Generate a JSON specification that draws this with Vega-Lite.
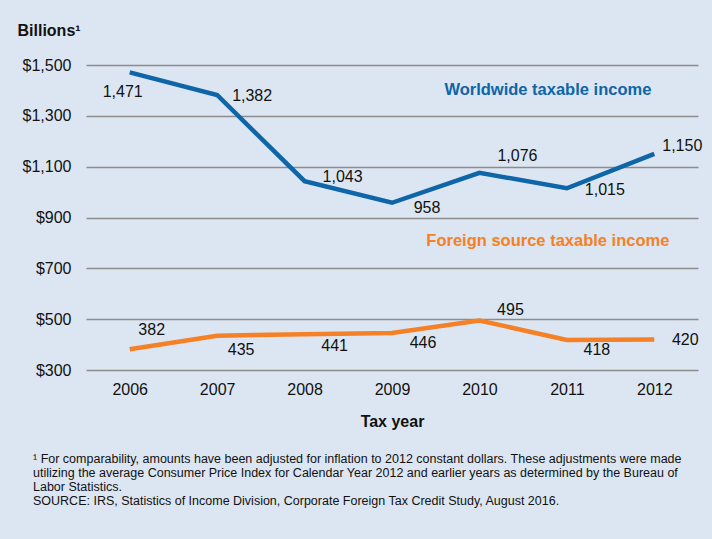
{
  "$schema": "https://vega.github.io/schema/vega-lite/v6.json",
  "width": 612,
  "height": 305,
  "autosize": {"type": "none"},
  "padding": {"left": 86, "top": 65, "right": 14, "bottom": 169},
  "background": "#dce6f2",
  "config": {"view": {"stroke": null}, "font": "Liberation Sans", "text": {"font": "Liberation Sans"}},
  "title": {
    "text": [
      "¹ For comparability, amounts have been adjusted for inflation to 2012 constant dollars. These adjustments were made",
      "utilizing the average Consumer Price Index for Calendar Year 2012 and earlier years as determined by the Bureau of",
      "Labor Statistics.",
      "SOURCE: IRS, Statistics of Income Division, Corporate Foreign Tax Credit Study, August 2016."
    ],
    "orient": "bottom",
    "anchor": "start",
    "frame": "group",
    "dx": -53,
    "offset": 24,
    "fontSize": 12.5,
    "fontWeight": "normal",
    "lineHeight": 14,
    "color": "#111111",
    "font": "Liberation Sans"
  },
  "datasets": {
    "main": [
      {"year": "2006", "series": "Worldwide", "value": 1471},
      {"year": "2007", "series": "Worldwide", "value": 1382},
      {"year": "2008", "series": "Worldwide", "value": 1043},
      {"year": "2009", "series": "Worldwide", "value": 958},
      {"year": "2010", "series": "Worldwide", "value": 1076},
      {"year": "2011", "series": "Worldwide", "value": 1015},
      {"year": "2012", "series": "Worldwide", "value": 1150},
      {"year": "2006", "series": "Foreign", "value": 382},
      {"year": "2007", "series": "Foreign", "value": 435},
      {"year": "2008", "series": "Foreign", "value": 441},
      {"year": "2009", "series": "Foreign", "value": 446},
      {"year": "2010", "series": "Foreign", "value": 495},
      {"year": "2011", "series": "Foreign", "value": 418},
      {"year": "2012", "series": "Foreign", "value": 420}
    ],
    "names": [
      {"year": "2011", "series": "Worldwide", "value": 1402, "label": "Worldwide taxable income"},
      {"year": "2011", "series": "Foreign", "value": 808, "label": "Foreign source taxable income"}
    ]
  },
  "data": {"name": "main"},
  "encoding": {
    "x": {
      "field": "year",
      "type": "ordinal",
      "scale": {"type": "point", "padding": 0.5},
      "axis": {
        "title": "Tax year",
        "titleFontSize": 16,
        "titleFontWeight": "bold",
        "titleColor": "#111111",
        "titlePadding": 16,
        "labelFontSize": 16,
        "labelColor": "#111111",
        "labelAngle": 0,
        "labelPadding": 11,
        "ticks": false,
        "domain": false,
        "grid": false
      }
    },
    "y": {
      "field": "value",
      "type": "quantitative",
      "scale": {"domain": [300, 1500], "nice": false, "zero": false},
      "axis": {
        "values": [300, 500, 700, 900, 1100, 1300, 1500],
        "format": "$,.0f",
        "title": "Billions¹",
        "titleAngle": 0,
        "titleAlign": "left",
        "titleBaseline": "middle",
        "titleX": -69,
        "titleY": -35,
        "titleFontSize": 16,
        "titleFontWeight": "bold",
        "titleColor": "#111111",
        "labelFontSize": 16,
        "labelColor": "#111111",
        "labelPadding": 15,
        "ticks": false,
        "domain": false,
        "grid": true,
        "gridColor": "#8c8c8c",
        "gridWidth": 1.5
      }
    }
  },
  "layer": [
    {
      "mark": {"type": "line", "strokeWidth": 4.5, "strokeJoin": "miter"},
      "encoding": {
        "color": {"field": "series", "type": "nominal", "scale": {"domain": ["Worldwide", "Foreign"], "range": ["#0e65a8", "#f58025"]}, "legend": null}
      }
    },
    {"transform": [{"filter": "datum.series=='Worldwide' && datum.year=='2006'"}], "mark": {"type": "text", "fontSize": 16, "color": "#111111", "dx": -7, "dy": 20}, "encoding": {"text": {"field": "value", "format": ","}}},
    {"transform": [{"filter": "datum.series=='Worldwide' && datum.year=='2007'"}], "mark": {"type": "text", "fontSize": 16, "color": "#111111", "dx": 35, "dy": 1}, "encoding": {"text": {"field": "value", "format": ","}}},
    {"transform": [{"filter": "datum.series=='Worldwide' && datum.year=='2008'"}], "mark": {"type": "text", "fontSize": 16, "color": "#111111", "dx": 38, "dy": -4}, "encoding": {"text": {"field": "value", "format": ","}}},
    {"transform": [{"filter": "datum.series=='Worldwide' && datum.year=='2009'"}], "mark": {"type": "text", "fontSize": 16, "color": "#111111", "dx": 35, "dy": 5}, "encoding": {"text": {"field": "value", "format": ","}}},
    {"transform": [{"filter": "datum.series=='Worldwide' && datum.year=='2010'"}], "mark": {"type": "text", "fontSize": 16, "color": "#111111", "dx": 38, "dy": -17}, "encoding": {"text": {"field": "value", "format": ","}}},
    {"transform": [{"filter": "datum.series=='Worldwide' && datum.year=='2011'"}], "mark": {"type": "text", "fontSize": 16, "color": "#111111", "dx": 38, "dy": 2}, "encoding": {"text": {"field": "value", "format": ","}}},
    {"transform": [{"filter": "datum.series=='Worldwide' && datum.year=='2012'"}], "mark": {"type": "text", "fontSize": 16, "color": "#111111", "dx": 28, "dy": -8}, "encoding": {"text": {"field": "value", "format": ","}}},
    {"transform": [{"filter": "datum.series=='Foreign' && datum.year=='2006'"}], "mark": {"type": "text", "fontSize": 16, "color": "#111111", "dx": 22, "dy": -19}, "encoding": {"text": {"field": "value", "format": ","}}},
    {"transform": [{"filter": "datum.series=='Foreign' && datum.year=='2007'"}], "mark": {"type": "text", "fontSize": 16, "color": "#111111", "dx": 24, "dy": 14}, "encoding": {"text": {"field": "value", "format": ","}}},
    {"transform": [{"filter": "datum.series=='Foreign' && datum.year=='2008'"}], "mark": {"type": "text", "fontSize": 16, "color": "#111111", "dx": 30, "dy": 12}, "encoding": {"text": {"field": "value", "format": ","}}},
    {"transform": [{"filter": "datum.series=='Foreign' && datum.year=='2009'"}], "mark": {"type": "text", "fontSize": 16, "color": "#111111", "dx": 31, "dy": 10}, "encoding": {"text": {"field": "value", "format": ","}}},
    {"transform": [{"filter": "datum.series=='Foreign' && datum.year=='2010'"}], "mark": {"type": "text", "fontSize": 16, "color": "#111111", "dx": 31, "dy": -10}, "encoding": {"text": {"field": "value", "format": ","}}},
    {"transform": [{"filter": "datum.series=='Foreign' && datum.year=='2011'"}], "mark": {"type": "text", "fontSize": 16, "color": "#111111", "dx": 30, "dy": 10}, "encoding": {"text": {"field": "value", "format": ","}}},
    {"transform": [{"filter": "datum.series=='Foreign' && datum.year=='2012'"}], "mark": {"type": "text", "fontSize": 16, "color": "#111111", "dx": 31, "dy": 0}, "encoding": {"text": {"field": "value", "format": ","}}},
    {
      "data": {"name": "names"},
      "mark": {"type": "text", "fontSize": 16.5, "fontWeight": "bold", "dx": -19},
      "encoding": {
        "text": {"field": "label"},
        "color": {"field": "series", "type": "nominal", "scale": {"domain": ["Worldwide", "Foreign"], "range": ["#0e65a8", "#f58025"]}, "legend": null}
      }
    }
  ]
}
